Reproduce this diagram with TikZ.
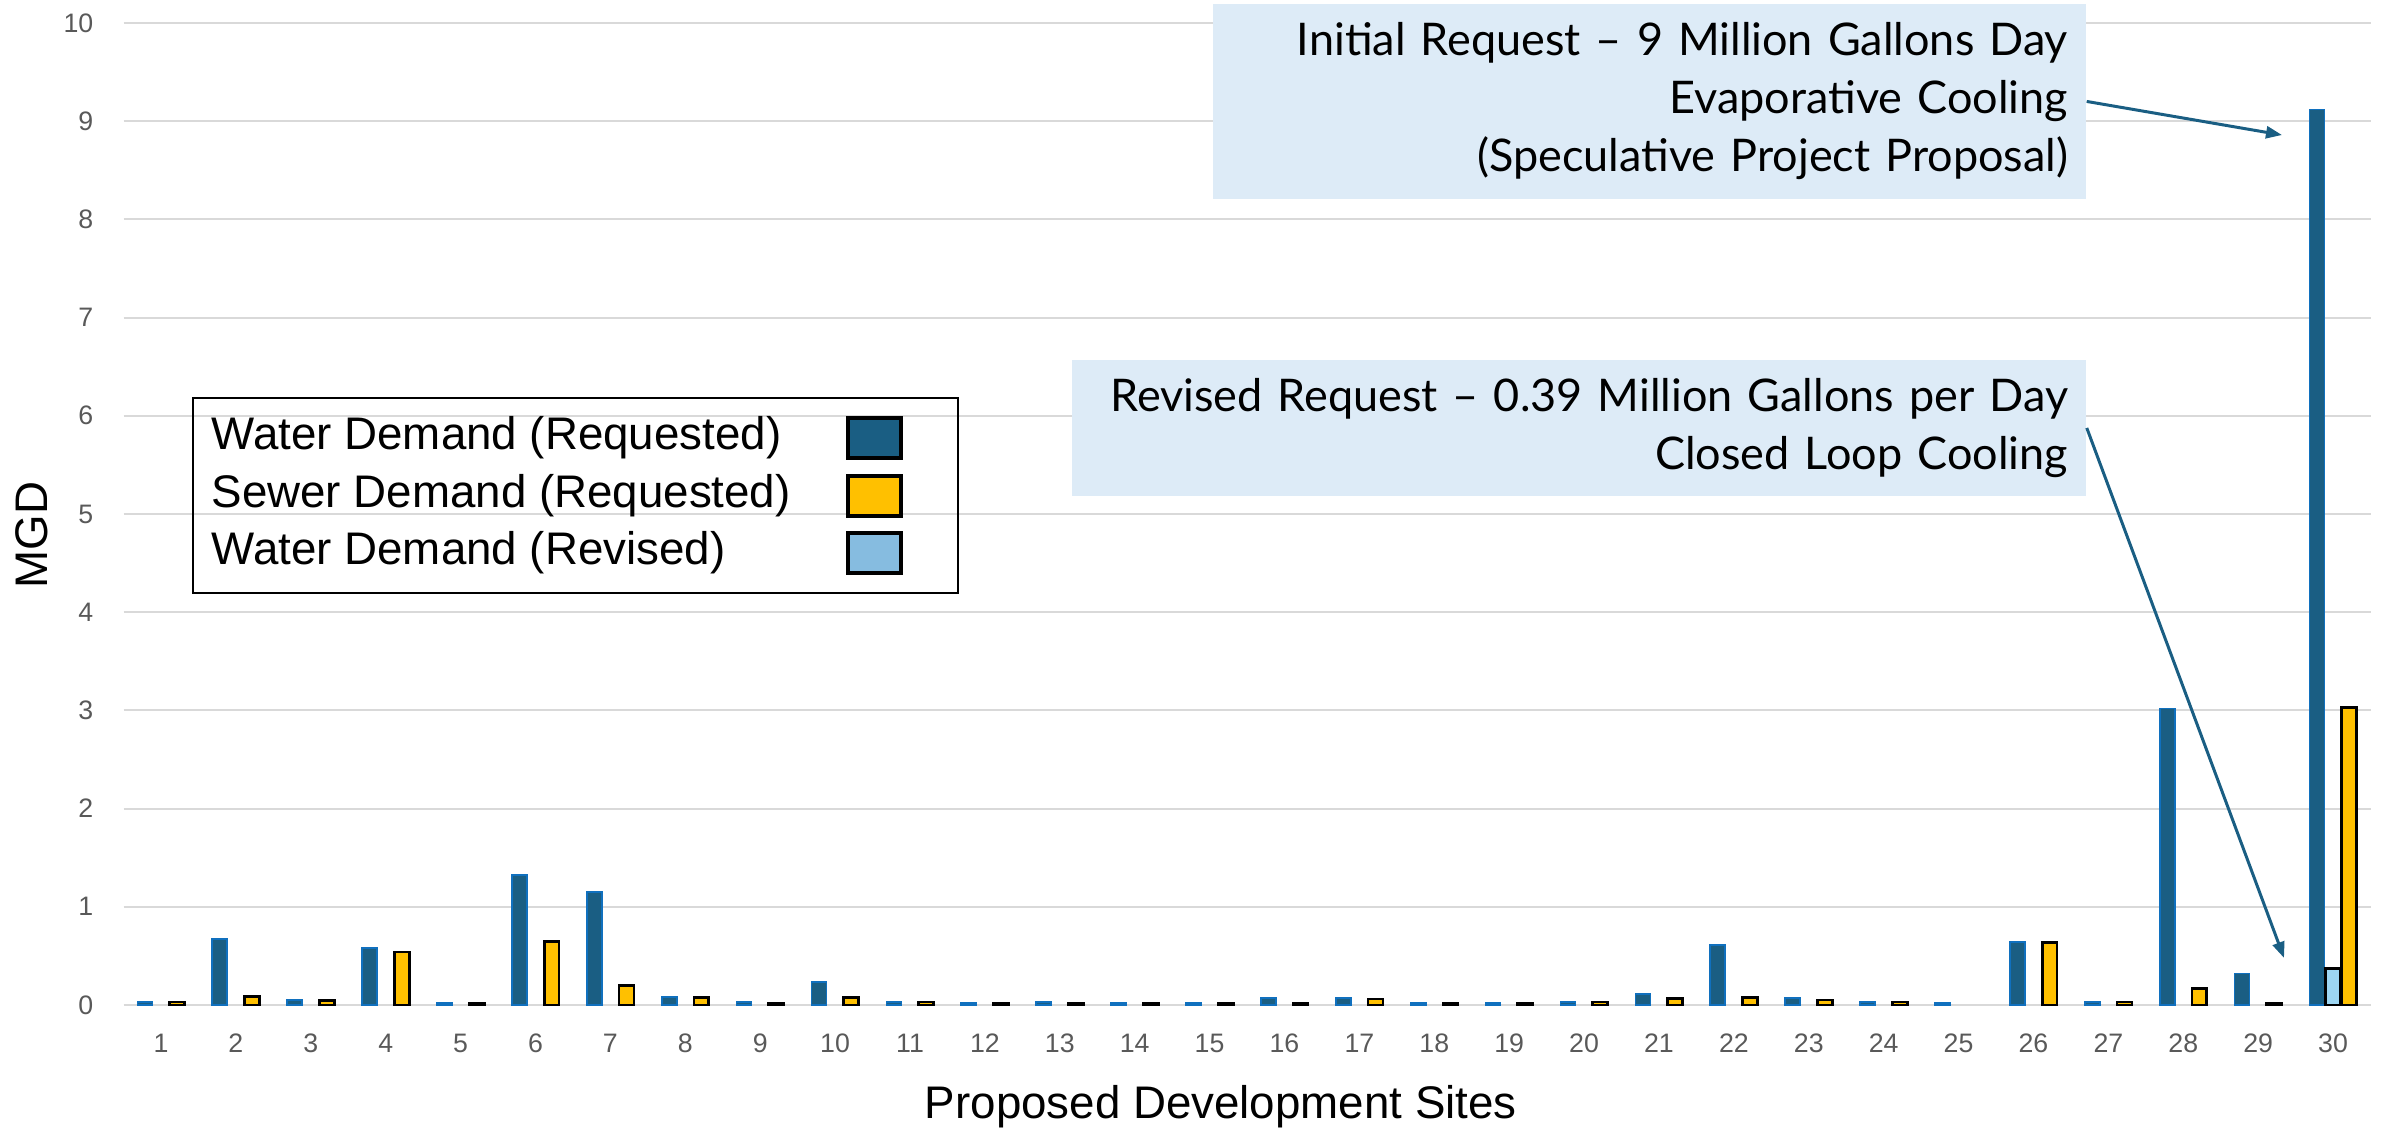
\documentclass[tikz,border=0pt]{standalone}
\usepackage{fontspec}
\setmainfont{Lato}
\newfontfamily\chartfont{Liberation Sans}
\usetikzlibrary{arrows.meta}
\definecolor{waterreq}{HTML}{1A5E83}
\definecolor{wateredge}{HTML}{1070BE}
\definecolor{sewerreq}{HTML}{FFC000}
\definecolor{waterrev}{HTML}{9DD6F2}
\definecolor{legrev}{HTML}{86BCE0}
\definecolor{gridgray}{HTML}{D9D9D9}
\definecolor{ticktext}{HTML}{595959}
\definecolor{annofill}{HTML}{DDEBF7}
\tikzset{
  gridline/.style={gridgray, line width=0.6pt},
  waterbar/.style={fill=waterreq, draw=wateredge, line width=0.5pt},
  sewerbar/.style={fill=sewerreq, draw=black, line width=0.8pt},
  revbar/.style={fill=waterrev, draw=black, line width=0.8pt},
  xtick/.style={font=\chartfont\fontsize{7.6}{8}\selectfont, text=ticktext, inner sep=0pt},
  ytick/.style={font=\chartfont\fontsize{7.6}{8}\selectfont, text=ticktext, inner sep=0pt, anchor=east},
  axtitle/.style={font=\chartfont\fontsize{13}{15}\selectfont, inner sep=0pt},
  legtext/.style={font=\chartfont\fontsize{13}{15}\selectfont, inner sep=0pt, anchor=west},
  swatch/.style={draw=black, line width=1pt, minimum width=0.53cm, minimum height=0.4cm, inner sep=0pt},
  anno/.style={fill=annofill, align=right, inner sep=0pt, font=\fontsize{12.8}{16.5}\selectfont},
  callout/.style={waterreq, line width=0.85pt, -{Triangle[length=0.16cm, width=0.12cm]}}
}
\begin{document}
\begin{tikzpicture}[x=0.749cm, y=0.982cm]
\useasboundingbox (-1.1495,-1.2525) rectangle (30.68,10.234);

%grid and value labels
\foreach \v in {0,...,10}{
  \draw[gridline] (0.5,\v) -- (30.5,\v);
  \node[ytick] (y\v) at (0.105,\v) {\v};
}

%bars: site / water requested / sewer requested
\foreach \i/\w/\s in {1/0.03/0.03, 2/0.67/0.09, 3/0.05/0.045, 4/0.58/0.54, 5/0.02/0.02,
  6/1.32/0.65, 7/1.15/0.2, 8/0.08/0.08, 9/0.03/0.02, 10/0.235/0.08,
  11/0.03/0.03, 12/0.02/0.02, 13/0.03/0.02, 14/0.02/0.02, 15/0.02/0.02,
  16/0.07/0.02, 17/0.07/0.06, 18/0.02/0.02, 19/0.02/0.02, 20/0.03/0.03,
  21/0.115/0.065, 22/0.61/0.08, 23/0.07/0.05, 24/0.03/0.03, 25/0.02/0,
  26/0.64/0.64, 27/0.03/0.03, 28/3.02/0.17, 29/0.32/0.02, 30/9.12/3.03}{
  \draw[waterbar] (\i-0.315,0) rectangle (\i-0.115,\w);
  \ifdim \s pt>0pt
    \draw[sewerbar] (\i+0.115,0) rectangle (\i+0.315,\s);
  \fi
  \node[xtick] (x\i) at (\i,-0.387) {\i};
}
%revised water demand, site 30 only
\draw[revbar] (29.9,0) rectangle (30.1,0.37);

%axis titles
\node[axtitle] (xtitle) at (15.15,-1.04) {Proposed Development Sites};
\node[axtitle, rotate=90] (ytitle) at (-0.722,4.786) {MGD};

%legend
\node[draw, line width=0.8pt, minimum width=7.65cm, minimum height=1.95cm, inner sep=0pt] (legend) at (6.534,5.189) {};
\node[legtext] (l1) at (1.668,5.774) {Water Demand (Requested)};
\node[legtext] (l2) at (1.668,5.183) {Sewer Demand (Requested)};
\node[legtext] (l3) at (1.668,4.603) {Water Demand (Revised)};
\node[swatch, fill=waterreq] (s1) at (10.526,5.774) {};
\node[swatch, fill=sewerreq] (s2) at (10.526,5.183) {};
\node[swatch, fill=legrev] (s3) at (10.526,4.603) {};

%call-outs
\node[anno, minimum width=8.73cm, minimum height=1.95cm, text width=8.37cm] (initial) at (20.873,9.201)
  {Initial Request -- 9 Million Gallons Day\\Evaporative Cooling\\(Speculative Project Proposal)};
\node[anno, minimum width=10.14cm, minimum height=1.36cm, text width=9.78cm] (revised) at (19.933,5.876)
  {Revised Request -- 0.39 Million Gallons per Day\\Closed Loop Cooling};
\coordinate (tipinitial) at (29.318,8.859);
\coordinate (tiprevised) at (29.345,0.479);
\draw[callout] (initial.east) -- (tipinitial);
\draw[callout] (revised.east) -- (tiprevised);
\end{tikzpicture}
\end{document}
